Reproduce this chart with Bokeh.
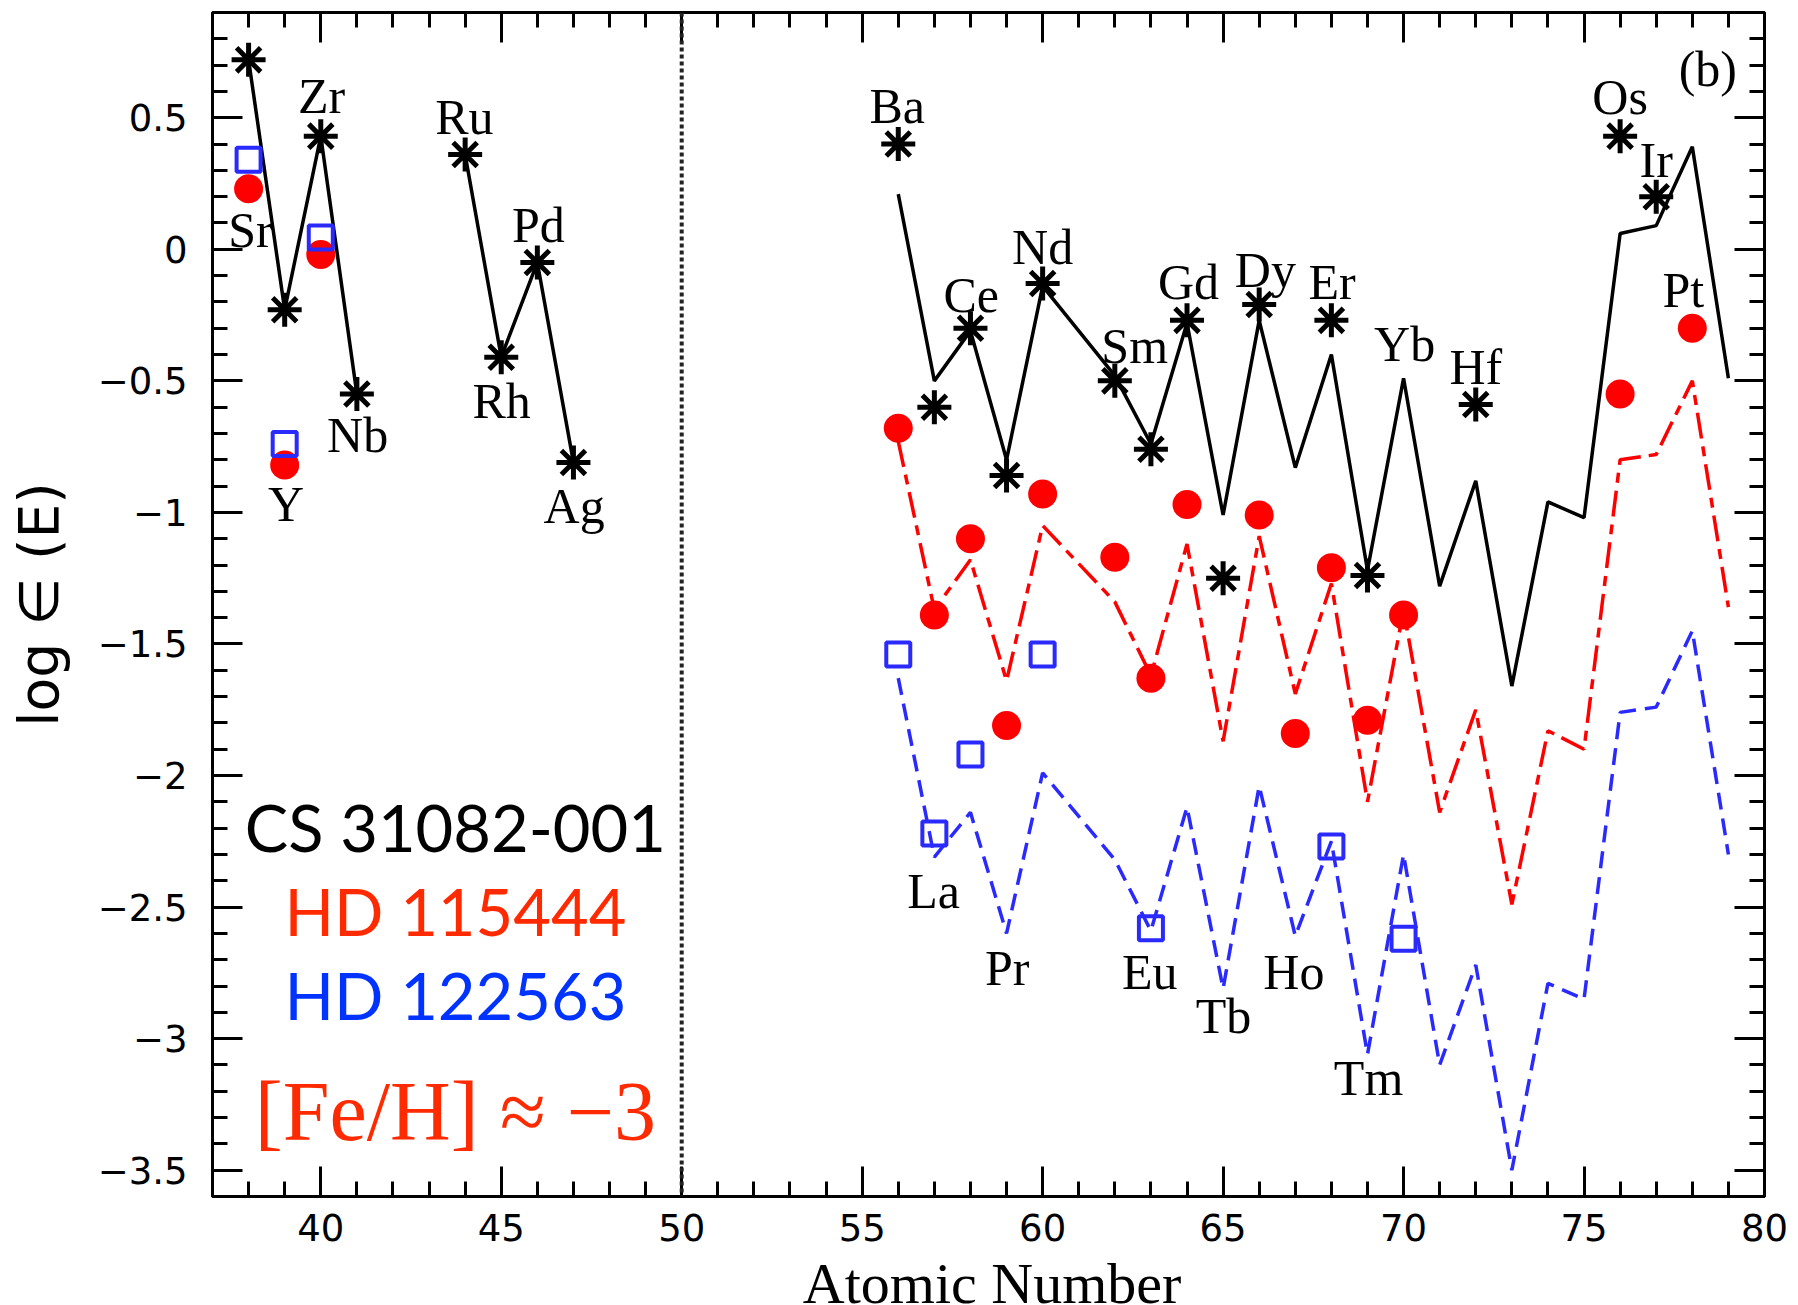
from bokeh.plotting import figure
from bokeh.layouts import column
from bokeh.models import (Range1d, FixedTicker, LinearAxis, Span, Label,
                          CustomJSTickFormatter, ColumnDataSource)
from bokeh.core.properties import value
from bokeh.embed import file_html
from bokeh.resources import INLINE

# ---- light neutron-capture elements (Z < 50) ----
z_light = [38, 39, 40, 41, 44, 45, 46, 47]
cs_light = [0.72, -0.23, 0.43, -0.55, 0.36, -0.41, -0.05, -0.81]
z_light_hd = [38, 39, 40]
hd115444_light = [0.23, -0.82, -0.02]
hd122563_light = [0.34, -0.74, 0.045]

# ---- heavy elements: observed abundances ----
z_cs_heavy = [56, 57, 58, 59, 60, 62, 63, 64, 65, 66, 68, 69, 72, 76, 77]
cs_heavy = [0.40, -0.60, -0.30, -0.86, -0.13, -0.50, -0.76, -0.27, -1.25,
            -0.21, -0.27, -1.24, -0.59, 0.43, 0.20]

z_hd115444 = [56, 57, 58, 59, 60, 62, 63, 64, 66, 67, 68, 69, 70, 76, 78]
hd115444_heavy = [-0.68, -1.39, -1.10, -1.81, -0.93, -1.17, -1.63, -0.97,
                  -1.01, -1.84, -1.21, -1.79, -1.39, -0.55, -0.30]

z_hd122563 = [56, 57, 58, 60, 63, 68, 70]
hd122563_heavy = [-1.54, -2.22, -1.92, -1.54, -2.58, -2.27, -2.62]

# ---- scaled solar r-process curves ----
z_solar = [56, 57, 58, 59, 60, 62, 63, 64, 65, 66, 67, 68, 69, 70, 71, 72,
           73, 74, 75, 76, 77, 78, 79]
solar_cs = [0.21, -0.50, -0.31, -0.80, -0.14, -0.48, -0.74, -0.28, -1.01,
            -0.27, -0.83, -0.40, -1.22, -0.49, -1.28, -0.88, -1.66, -0.96,
            -1.02, 0.06, 0.09, 0.39, -0.49]
solar_hd115444 = [-0.73, -1.37, -1.18, -1.64, -1.05, -1.34, -1.62, -1.12,
                  -1.87, -1.09, -1.69, -1.27, -2.10, -1.37, -2.14, -1.75,
                  -2.49, -1.83, -1.90, -0.80, -0.78, -0.50, -1.36]
solar_hd122563 = [-1.63, -2.31, -2.14, -2.60, -1.99, -2.32, -2.59, -2.12,
                  -2.81, -2.04, -2.61, -2.25, -3.06, -2.30, -3.10, -2.72,
                  -3.50, -2.79, -2.85, -1.76, -1.74, -1.45, -2.30]

# ---- axis ticks ----
x_major = [40, 45, 50, 55, 60, 65, 70, 75, 80]
x_minor = list(range(37, 81))
y_major = [-3.5, -3.0, -2.5, -2.0, -1.5, -1.0, -0.5, 0.0, 0.5]
y_minor = [round(-3.6 + 0.1 * i, 1) for i in range(46)]

# ---- element name labels: text and placement ----
el_names = ["Sr", "Y", "Zr", "Nb", "Ru", "Rh", "Pd", "Ag",
            "Ba", "Ce", "Nd", "Sm", "Gd", "Dy", "Er", "Yb", "Hf",
            "Os", "Ir", "Pt", "La", "Pr", "Eu", "Tb", "Ho", "Tm"]
el_x = [38.05, 39.04, 40.02, 41.02, 43.98, 45.01, 46.03, 47.02,
        55.97, 58.02, 60.0, 62.55, 64.04, 66.17, 68.02, 70.03, 72.0,
        76.0, 77.0, 77.75, 56.98, 59.02, 62.97, 65.01, 66.96, 69.03]
el_y = [0.073, -0.967, 0.582, -0.704, 0.503, -0.575, 0.094, -0.974,
        0.545, -0.173, 0.009, -0.369, -0.125, -0.078, -0.125, -0.361, -0.449,
        0.577, 0.34, -0.156, -2.44, -2.73, -2.747, -2.914, -2.747, -3.148]

BLACK = "black"
RED = "#ff0000"
BLUE = "#2a2aff"

p = figure(width=1798, height=1262,
           x_range=Range1d(37, 80), y_range=Range1d(-3.6, 0.9),
           output_backend="svg", toolbar_location=None,
           min_border_left=212, min_border_right=34,
           min_border_top=12, min_border_bottom=66)
p.background_fill_color = "white"
p.border_fill_color = "white"
p.grid.visible = False
p.outline_line_color = "black"
p.outline_line_width = 3

x_ticker = FixedTicker(ticks=x_major, minor_ticks=x_minor)
y_ticker = FixedTicker(ticks=y_major, minor_ticks=y_minor)
y_overrides = {}
for v in y_major:
    key = int(v) if float(v).is_integer() else v
    txt = ("%g" % abs(v))
    y_overrides[key] = ("\u2212" + txt) if v < 0 else txt


def style_axis(ax, ticker):
    ax.ticker = ticker
    ax.axis_line_width = 3
    ax.axis_line_color = "black"
    ax.major_tick_line_width = 3
    ax.minor_tick_line_width = 3
    ax.major_tick_in = 30
    ax.major_tick_out = 0
    ax.minor_tick_in = 15
    ax.minor_tick_out = 0
    ax.major_label_text_font = "DejaVu Sans"
    ax.major_label_text_font_size = "37px"
    ax.major_label_text_color = "black"


xb = p.xaxis[0]
style_axis(xb, x_ticker)
xb.major_label_standoff = 17

yl = p.yaxis[0]
style_axis(yl, y_ticker)
yl.major_label_overrides = y_overrides
yl.major_label_standoff = 25
yl.axis_label = "log \u2208 (E)"
yl.axis_label_text_font = "DejaVu Sans"
yl.axis_label_text_font_style = "normal"
yl.axis_label_text_font_size = "55px"
yl.axis_label_text_color = "black"
yl.axis_label_standoff = 24

blank = CustomJSTickFormatter(code="return ''")
xt = LinearAxis(formatter=blank)
style_axis(xt, x_ticker)
xt.major_label_standoff = 0
p.add_layout(xt, "above")
yr = LinearAxis(formatter=blank)
style_axis(yr, y_ticker)
yr.major_label_standoff = 0
p.add_layout(yr, "right")

# separator between the light and heavy element panels
p.add_layout(Span(location=50, dimension="height", line_color="#222222",
                  line_width=4, line_dash="4 3"))

# model curves
p.line(z_solar, solar_cs, line_color=BLACK, line_width=3.5)
p.line(z_solar, solar_hd115444, line_color=RED, line_width=3.5,
       line_dash="26 8 10 8")
p.line(z_solar, solar_hd122563, line_color=BLUE, line_width=3.5,
       line_dash="17 9")

# light elements of CS 31082-001 joined by segments
p.line(z_light[:4], cs_light[:4], line_color=BLACK, line_width=3.5)
p.line(z_light[4:], cs_light[4:], line_color=BLACK, line_width=3.5)

# observed abundances
p.scatter(z_light_hd, hd115444_light, marker="circle", size=29,
          fill_color=RED, line_color=None)
p.scatter(z_hd115444, hd115444_heavy, marker="circle", size=29,
          fill_color=RED, line_color=None)
p.scatter(z_light_hd, hd122563_light, marker="square", size=24,
          fill_color=None, line_color=BLUE, line_width=4)
p.scatter(z_hd122563, hd122563_heavy, marker="square", size=24,
          fill_color=None, line_color=BLUE, line_width=4)
p.scatter(z_light, cs_light, marker="asterisk", size=34,
          line_color=BLACK, line_width=5)
p.scatter(z_cs_heavy, cs_heavy, marker="asterisk", size=34,
          line_color=BLACK, line_width=5)

# element names
src = ColumnDataSource(dict(x=el_x, y=el_y, t=el_names))
p.text(x="x", y="y", text="t", source=src, text_align="center",
       text_baseline="middle", text_font=value("Liberation Serif"),
       text_font_size=value("50px"), text_color="black")

p.add_layout(Label(x=78.43, y=0.687, text="(b)", text_align="center",
                   text_baseline="middle", text_font="Liberation Serif",
                   text_font_size="50px", text_color="black"))

# star names
p.add_layout(Label(x=43.73, y=-2.196, text="CS 31082-001", text_align="center",
                   text_baseline="middle", text_font="Lato",
                   text_font_size="65px", text_color="black"))
p.add_layout(Label(x=43.73, y=-2.515, text="HD 115444", text_align="center",
                   text_baseline="middle", text_font="Lato",
                   text_font_size="65px", text_color="#ff2a00"))
p.add_layout(Label(x=43.73, y=-2.833, text="HD 122563", text_align="center",
                   text_baseline="middle", text_font="Lato",
                   text_font_size="65px", text_color="#0033ff"))
p.add_layout(Label(x=43.73, y=-3.276, text="[Fe/H] \u2248 \u22123",
                   text_align="center", text_baseline="middle",
                   text_font="Liberation Serif", text_font_size="84px",
                   text_color="#ff2a00"))

# x-axis title strip beneath the plot, sharing its horizontal scale
q = figure(width=1798, height=43, x_range=p.x_range, y_range=Range1d(0, 43),
           output_backend="svg", toolbar_location=None,
           x_axis_location=None, y_axis_location=None,
           min_border_left=212, min_border_right=34,
           min_border_top=0, min_border_bottom=0)
q.grid.visible = False
q.outline_line_color = None
q.background_fill_color = "white"
q.border_fill_color = "white"
q.text(x=[58.6], y=[22], text=["Atomic Number"], text_align="center",
       text_baseline="middle", text_font=value("Liberation Serif"),
       text_font_size=value("58px"), text_color="black")

layout = column(p, q, spacing=0)
open("out.html", "w").write(file_html(layout, INLINE))
